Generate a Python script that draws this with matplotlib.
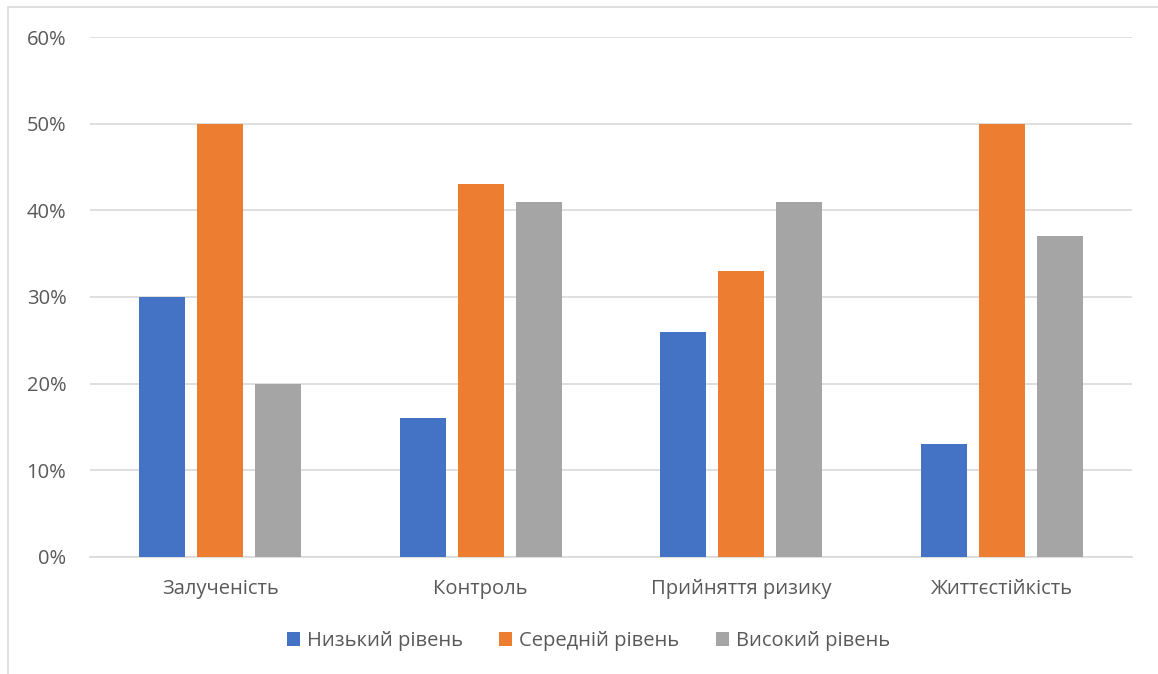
import matplotlib.pyplot as plt
import numpy as np
from matplotlib.patches import Rectangle
from matplotlib.ticker import PercentFormatter

plt.rcParams['font.family'] = ['Open Sans', 'DejaVu Sans']

categories = ['Залученість', 'Контроль', 'Прийняття ризику', 'Життєстійкість']
series_names = ['Низький рівень', 'Середній рівень', 'Високий рівень']
low = [30, 16, 26, 13]
mid = [50, 43, 33, 50]
high = [20, 41, 41, 37]
colors = ['#4472C4', '#ED7D31', '#A5A5A5']

fig = plt.figure(figsize=(11.58, 6.74), dpi=100)
ax = fig.add_axes([0.0777, 0.1736, 0.8998, 0.7715])

x = np.arange(len(categories))
width = 0.177
step = 0.2226
for i, (vals, name) in enumerate(zip([low, mid, high], series_names)):
    ax.bar(x + (i - 1) * step, vals, width, color=colors[i], label=name, zorder=3)

ax.set_xlim(-0.5, len(categories) - 0.5)
ax.set_ylim(0, 60)
ax.set_yticks(range(0, 61, 10))
ax.yaxis.set_major_formatter(PercentFormatter(decimals=0))
ax.set_xticks(x)
ax.set_xticklabels(categories)
ax.grid(axis='y', color='#D9D9D9', linewidth=1.2, zorder=0)
for s in ['top', 'right', 'left']:
    ax.spines[s].set_visible(False)
ax.spines['bottom'].set_color('#D9D9D9')
ax.spines['bottom'].set_linewidth(1.2)
ax.tick_params(axis='both', length=0, colors='#595959', labelsize=14.5)
ax.tick_params(axis='y', pad=17)
ax.tick_params(axis='x', pad=16)

fig.legend(loc='center', bbox_to_anchor=(0.508, 0.049), ncol=3, frameon=False,
           fontsize=14.5, labelcolor='#595959', handlelength=0.65, handleheight=0.65,
           handletextpad=0.35, columnspacing=1.8)

fig.patches.append(Rectangle((8 / 1158, -0.1), 1.2, 1.1 - 7.5 / 674, transform=fig.transFigure,
                             fill=False, edgecolor='#D9D9D9', linewidth=1.2))

fig.savefig('out.png', dpi=100)
